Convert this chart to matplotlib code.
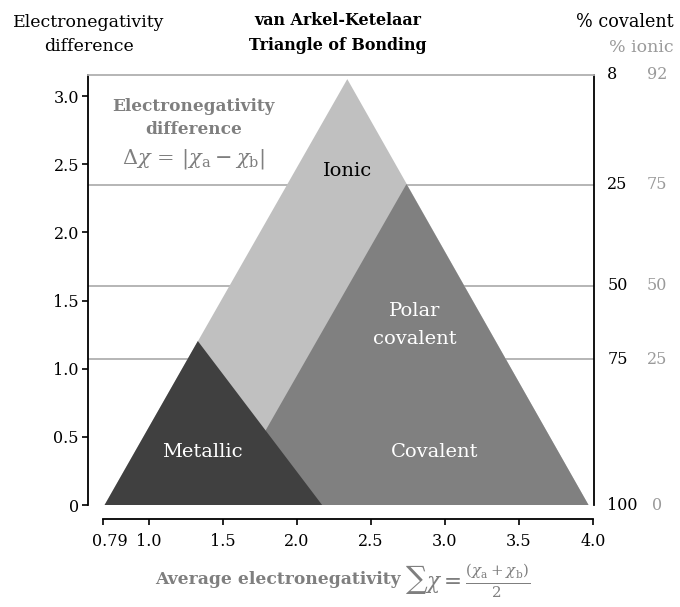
import matplotlib
matplotlib.use("Agg")
import matplotlib.pyplot as plt
from matplotlib.patches import Polygon
import matplotlib.transforms as mtransforms

plt.rcParams['font.family'] = ['DejaVu Serif']
plt.rcParams['mathtext.fontset'] = 'dejavuserif'

# ---- data ----
ionic_tri = [(0.70, 0.0), (2.34, 3.125), (3.97, 0.0)]
polar_tri = [(1.50, 0.0), (2.74, 2.355), (3.97, 0.0)]
metal_tri = [(0.70, 0.0), (1.33, 1.203), (2.17, 0.0)]

x_ticks = [0.69, 1.0, 1.5, 2.0, 2.5, 3.0, 3.5, 4.0]
x_ticklabels = ['0.79', '1.0', '1.5', '2.0', '2.5', '3.0', '3.5', '4.0']
y_ticks = [0, 0.5, 1.0, 1.5, 2.0, 2.5, 3.0]
y_ticklabels = ['0', '0.5', '1.0', '1.5', '2.0', '2.5', '3.0']

level_y = [3.155, 2.35, 1.61, 1.07, 0.0]
pct_covalent = ['8', '25', '50', '75', '100']
pct_ionic = ['92', '75', '50', '25', '0']
grid_levels = [2.35, 1.61, 1.07]

c_light = '#c0c0c0'
c_mid = '#808080'
c_dark = '#404040'
c_grid = '#b0b0b0'
c_text_gray = '#7f7f7f'
c_ionic_lbl = '#9a9a9a'

fig = plt.figure(figsize=(6.8, 6.07), dpi=100)
ax = fig.add_axes([88/680, 1-505/607, (594-88)/680, (505-75)/607])
ax.set_xlim(0.588, 4.007)
ax.set_ylim(0, 3.155)

for y in grid_levels:
    ax.axhline(y, color=c_grid, lw=1.3, zorder=1)

ax.add_patch(Polygon(ionic_tri, closed=True, facecolor=c_light, edgecolor='none', zorder=2))
ax.add_patch(Polygon(polar_tri, closed=True, facecolor=c_mid, edgecolor='none', zorder=3))
ax.add_patch(Polygon(metal_tri, closed=True, facecolor=c_dark, edgecolor='none', zorder=4))

fs_in = 14
ax.text(2.34, 2.45, 'Ionic', ha='center', va='center', fontsize=fs_in, color='black', zorder=5)
ax.text(2.795, 1.32, 'Polar\ncovalent', ha='center', va='center', fontsize=fs_in, color='white',
        linespacing=1.7, zorder=5)
ax.text(1.36, 0.389, 'Metallic', ha='center', va='center', fontsize=fs_in, color='white', zorder=5)
ax.text(2.93, 0.389, 'Covalent', ha='center', va='center', fontsize=fs_in, color='white', zorder=5)

ax.text(1.30, 2.84, 'Electronegativity\ndifference',
        ha='center', va='center', fontsize=12.2, color=c_text_gray, fontweight='bold',
        linespacing=1.5, zorder=5)
ax.text(1.30, 2.54, r'$\Delta\chi\,=\,|\chi_\mathrm{a} - \chi_\mathrm{b}|$',
        ha='center', va='center', fontsize=15, color=c_text_gray, zorder=5)

# spines
ax.spines['top'].set_color(c_grid)
ax.spines['top'].set_linewidth(1.3)
ax.spines['left'].set_linewidth(1.3)
ax.spines['right'].set_linewidth(1.3)
ax.spines['bottom'].set_linewidth(1.3)
ax.spines['bottom'].set_position(('outward', 10))
ax.spines['bottom'].set_bounds(x_ticks[0], x_ticks[-1])

ax.set_xticks(x_ticks)
ax.set_xticklabels(x_ticklabels)
ax.set_yticks(y_ticks)
ax.set_yticklabels(y_ticklabels)
ax.tick_params(axis='both', labelsize=11.5, length=4, width=1.2, direction='out')
ax.tick_params(axis='x', pad=6)
ax.tick_params(axis='y', pad=2.5)
first = ax.get_xticklabels()[0]
first.set_transform(first.get_transform() + mtransforms.ScaledTranslation(7/100, 0, fig.dpi_scale_trans))

# right-side percentage labels
trans = mtransforms.blended_transform_factory(ax.transAxes, ax.transData)
for y, c, i in zip(level_y, pct_covalent, pct_ionic):
    ax.text(1.026, y, c, transform=trans, ha='left', va='center',
            fontsize=11.5, color='black')
    ax.text(1.1245, y, i, transform=trans, ha='center', va='center',
            fontsize=11.5, color=c_ionic_lbl)

fig.text(674/680, 1-22/607, '% covalent', ha='right', va='center', fontsize=12.7, color='black')
fig.text(674/680, 1-47/607, '% ionic', ha='right', va='center', fontsize=12.5, color=c_ionic_lbl)

fig.text(89/680, 1-34.5/607, 'Electronegativity\ndifference', ha='center', va='center',
         fontsize=12.5, color='black', linespacing=1.55)
fig.text(338/680, 1-33/607, 'van Arkel-Ketelaar\nTriangle of Bonding', ha='center', va='center',
         fontsize=11.4, color='black', fontweight='bold', linespacing=1.6)

fig.text(401/680, 1-580/607, 'Average electronegativity', ha='right', va='center',
         fontsize=12.3, color=c_text_gray, fontweight='bold')
fig.text(405/680, 1-581/607,
         r'$\sum\chi = \frac{(\chi_\mathrm{a}+\chi_\mathrm{b})}{2}$',
         ha='left', va='center', fontsize=15.5, color=c_text_gray)

fig.savefig('out.png', dpi=100)
